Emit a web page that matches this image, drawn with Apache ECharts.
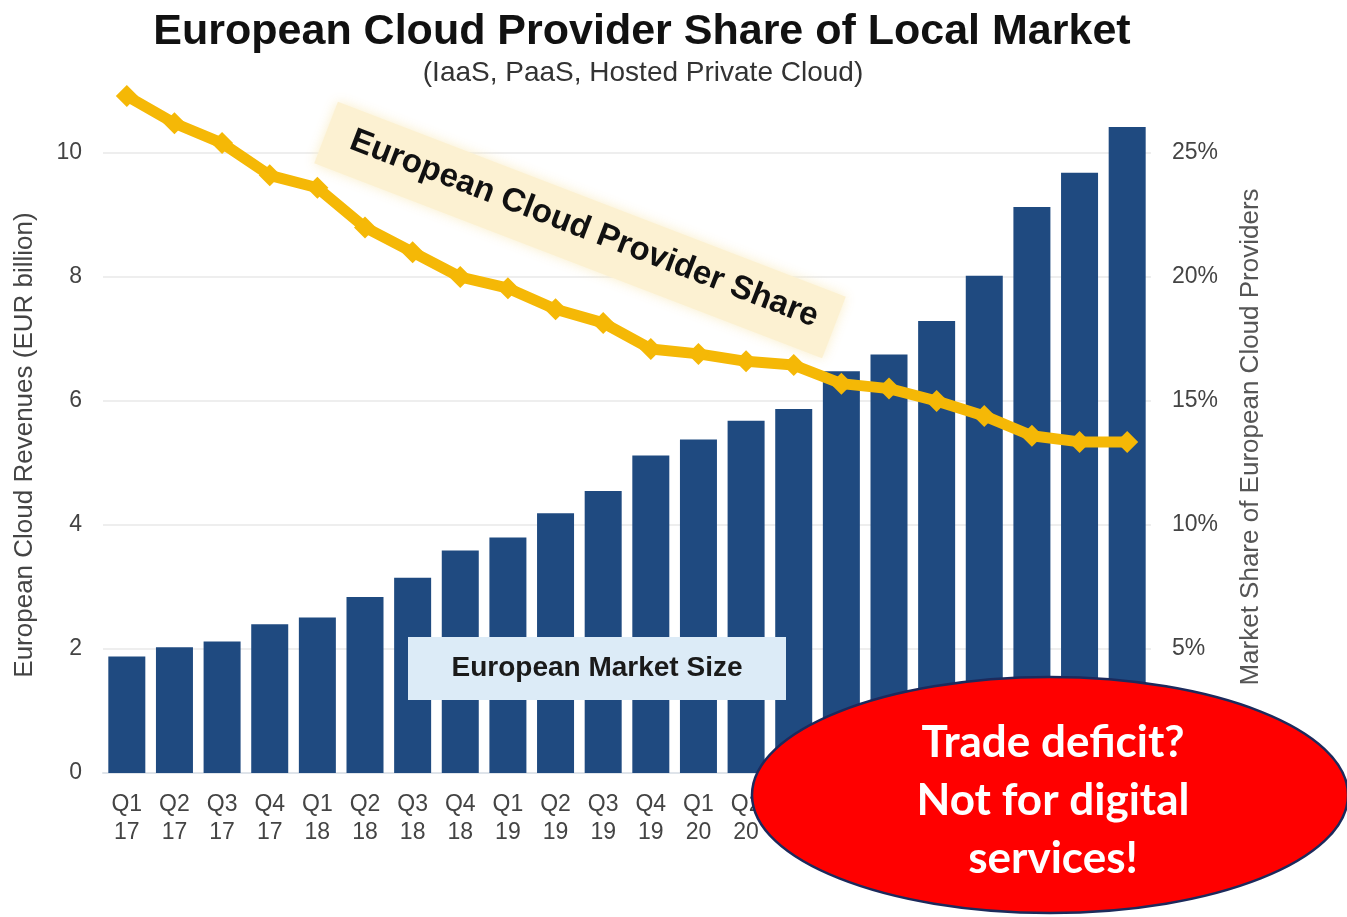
<!DOCTYPE html>
<html>
<head>
<meta charset="utf-8">
<script src="https://cdn.jsdelivr.net/npm/echarts@6/dist/echarts.min.js"></script>
<style>
  html, body { margin: 0; padding: 0; background: #ffffff; }
  #chart { width: 1347px; height: 917px; }
</style>
</head>
<body>
<div id="chart"></div>
<script>
// Quarterly categories (two-line labels: quarter / year)
const quarters = [
  'Q1\n17', 'Q2\n17', 'Q3\n17', 'Q4\n17',
  'Q1\n18', 'Q2\n18', 'Q3\n18', 'Q4\n18',
  'Q1\n19', 'Q2\n19', 'Q3\n19', 'Q4\n19',
  'Q1\n20', 'Q2\n20', 'Q3\n20', 'Q4\n20',
  'Q1\n21', 'Q2\n21', 'Q3\n21', 'Q4\n21',
  'Q1\n22', 'Q2\n22'
];

// European cloud market size, EUR billion
const marketSize = [
  1.88, 2.03, 2.12, 2.40, 2.51, 2.84, 3.15, 3.59,
  3.80, 4.19, 4.55, 5.12, 5.38, 5.68, 5.87, 6.48,
  6.75, 7.29, 8.02, 9.13, 9.68, 10.42
];

// Share of the local market held by European providers, %
const providerShare = [
  27.3, 26.2, 25.4, 24.1, 23.6, 22.0, 21.0, 20.0,
  19.55, 18.7, 18.15, 17.1, 16.9, 16.6, 16.45, 15.7,
  15.5, 15.0, 14.4, 13.6, 13.35, 13.35
];

// Tick values shown on each value axis
const leftTicks = [0, 2, 4, 6, 8, 10];
const rightTicks = [5, 10, 15, 20, 25];

const BAR_COLOR = '#1f4a80';
const LINE_COLOR = '#f5b806';
const AXIS_TEXT = '#444444';
const FONT = 'Liberation Sans';
const GRID_LINE = '#eeeeee';

const chart = echarts.init(document.getElementById('chart'), null, { renderer: 'canvas' });

const shareAngle = -21 * Math.PI / 180;

const option = {
  backgroundColor: '#ffffff',
  animation: false,
  title: [
    {
      text: 'European Cloud Provider Share of Local Market',
      left: 637, top: 6, textAlign: 'center',
      textStyle: { fontFamily: FONT, fontWeight: 'bold', fontSize: 43, color: '#111111' }
    },
    {
      text: '(IaaS, PaaS, Hosted Private Cloud)',
      left: 638, top: 54, textAlign: 'center',
      textStyle: { fontFamily: FONT, fontWeight: 'normal', fontSize: 28, color: '#333333' }
    }
  ],
  grid: { left: 103, right: 196, top: 29, bottom: 144, containLabel: false },
  xAxis: {
    type: 'category',
    data: quarters,
    axisLine: { show: true, lineStyle: { color: '#dfe4ea', width: 2 } },
    axisTick: { show: false },
    axisLabel: {
      color: AXIS_TEXT, fontFamily: FONT, fontSize: 23,
      lineHeight: 28, margin: 18, interval: 0
    }
  },
  yAxis: [
    {
      type: 'value', min: 0, max: 12, interval: 2, position: 'left',
      axisLine: { show: false }, axisTick: { show: false },
      axisLabel: {
        color: AXIS_TEXT, fontFamily: FONT, fontSize: 23, margin: 21,
        formatter: v => (leftTicks.indexOf(v) >= 0 ? String(v) : '')
      },
      splitLine: {
        show: true,
        lineStyle: {
          color: [GRID_LINE, GRID_LINE, GRID_LINE, GRID_LINE, GRID_LINE, GRID_LINE, 'rgba(0,0,0,0)'],
          width: 2
        }
      }
    },
    {
      type: 'value', min: 0, max: 30, interval: 5, position: 'right',
      axisLine: { show: false }, axisTick: { show: false },
      axisLabel: {
        color: AXIS_TEXT, fontFamily: FONT, fontSize: 23, margin: 21,
        formatter: v => (rightTicks.indexOf(v) >= 0 ? v + '%' : '')
      },
      splitLine: { show: false }
    }
  ],
  series: [
    {
      name: 'European Market Size',
      type: 'bar',
      yAxisIndex: 0,
      data: marketSize,
      barWidth: 37,
      itemStyle: { color: BAR_COLOR },
      z: 2
    },
    {
      name: 'European Cloud Provider Share',
      type: 'line',
      yAxisIndex: 1,
      data: providerShare,
      symbol: 'diamond',
      symbolSize: 22,
      showAllSymbol: true,
      lineStyle: { color: LINE_COLOR, width: 11 },
      itemStyle: { color: LINE_COLOR },
      z: 5
    }
  ],
  graphic: [
    // Axis titles
    {
      type: 'text', x: 25, y: 445, rotation: Math.PI / 2, z: 20,
      style: {
        text: 'European Cloud Revenues (EUR billion)',
        fontFamily: FONT, fontSize: 26, fill: AXIS_TEXT,
        align: 'center', verticalAlign: 'middle'
      }
    },
    {
      type: 'text', x: 1251, y: 437, rotation: Math.PI / 2, z: 20,
      style: {
        text: 'Market Share of European Cloud Providers',
        fontFamily: FONT, fontSize: 26, fill: '#555555',
        align: 'center', verticalAlign: 'middle'
      }
    },
    // Rotated callout for the share line
    {
      type: 'rect', x: 580, y: 230, rotation: shareAngle, z: 3,
      shape: { x: -272, y: -33, width: 544, height: 66 },
      style: { fill: '#fcf1d2', shadowColor: 'rgba(250,236,195,0.9)', shadowBlur: 12 }
    },
    {
      type: 'text', x: 584, y: 229, rotation: shareAngle, z: 4,
      style: {
        text: 'European Cloud Provider Share',
        fontFamily: FONT, fontWeight: 'bold', fontSize: 33,
        fill: '#111111', align: 'center', verticalAlign: 'middle'
      }
    },
    // Callout for the bars
    {
      type: 'rect', z: 30,
      shape: { x: 408, y: 637, width: 378, height: 63 },
      style: { fill: '#dcebf7' }
    },
    {
      type: 'text', x: 597, y: 668, z: 31,
      style: {
        text: 'European Market Size',
        fontFamily: FONT, fontWeight: 'bold', fontSize: 28,
        fill: '#1a1a1a', align: 'center', verticalAlign: 'middle'
      }
    },
    // Red bubble remark
    {
      type: 'ellipse', z: 40,
      shape: { cx: 1050, cy: 795, rx: 298, ry: 118 },
      style: { fill: '#ff0000', stroke: '#1c2a5c', lineWidth: 2.5 }
    },
    {
      type: 'text', x: 1053, y: 801, z: 41,
      style: {
        text: 'Trade deficit?\nNot for digital\nservices!',
        fontFamily: 'Lato', fontWeight: 'bold', fontSize: 44,
        lineHeight: 58,
        fill: '#ffffff', align: 'center', verticalAlign: 'middle'
      }
    }
  ]
};

chart.setOption(option);
</script>
</body>
</html>
